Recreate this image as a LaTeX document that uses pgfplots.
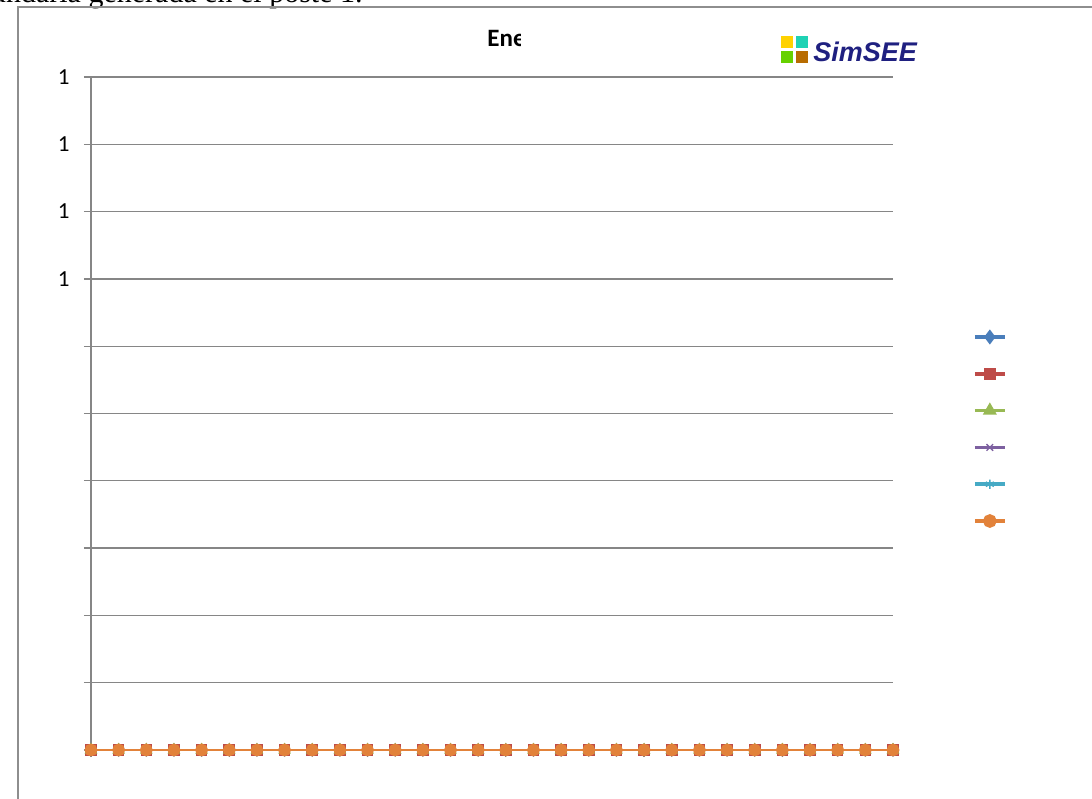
\documentclass[border=0pt]{standalone}
\usepackage{pgfplots}
\pgfplotsset{compat=1.18}
\usepackage{pgfplotstable}
\usepackage{fontspec}
\setmainfont{Liberation Serif}
\newfontfamily\calibri{Carlito}
\newfontfamily\arialf{Liberation Sans}
\definecolor{gridgray}{HTML}{868686}
\definecolor{framegray}{HTML}{8E8E8E}
\definecolor{cA}{HTML}{4A7EBB}
\definecolor{cB}{HTML}{BE4B48}
\definecolor{cC}{HTML}{98B954}
\definecolor{cD}{HTML}{7D60A0}
\definecolor{cE}{HTML}{46AAC5}
\definecolor{cF}{HTML}{E2823A}
\definecolor{sqy}{HTML}{FFD200}
\definecolor{sqt}{HTML}{1FD2B4}
\definecolor{sqg}{HTML}{66D100}
\definecolor{sqb}{HTML}{B86C00}
\definecolor{navy}{HTML}{1F2080}

\pgfplotstableread{
x s1 s2 s3 s4 s5 s6
0 0 0 0 0 0 0
1 0 0 0 0 0 0
2 0 0 0 0 0 0
3 0 0 0 0 0 0
4 0 0 0 0 0 0
5 0 0 0 0 0 0
6 0 0 0 0 0 0
7 0 0 0 0 0 0
8 0 0 0 0 0 0
9 0 0 0 0 0 0
10 0 0 0 0 0 0
11 0 0 0 0 0 0
12 0 0 0 0 0 0
13 0 0 0 0 0 0
14 0 0 0 0 0 0
15 0 0 0 0 0 0
16 0 0 0 0 0 0
17 0 0 0 0 0 0
18 0 0 0 0 0 0
19 0 0 0 0 0 0
20 0 0 0 0 0 0
21 0 0 0 0 0 0
22 0 0 0 0 0 0
23 0 0 0 0 0 0
24 0 0 0 0 0 0
25 0 0 0 0 0 0
26 0 0 0 0 0 0
27 0 0 0 0 0 0
28 0 0 0 0 0 0
29 0 0 0 0 0 0
}\datatab

\begin{document}
\begin{tikzpicture}[x=0.5pt,y=0.5pt]
\useasboundingbox (0,0) rectangle (1092,798);
\clip (0,0) rectangle (1092,798);
\fill[white] (0,0) rectangle (1092,798);
% text line of the page above the chart
\node[anchor=base east, inner sep=0pt] at (363,795.5) {\fontsize{15}{18}\selectfont Energía secundaria generada en el poste 1.};
% chart frame
\draw[framegray, line width=0.75pt] (18,-10) -- (18,791) -- (1100,791);
% cut title
\begin{scope}
\clip (470,700) rectangle (520,790);
\node[anchor=base west, inner sep=0pt] at (487,751) {\calibri\bfseries\fontsize{12.5}{15}\selectfont Energía};
\end{scope}
% SimSEE logo
\fill[sqy] (781,762) rectangle (793,749.5);
\fill[sqt] (796,762) rectangle (808,749.5);
\fill[sqg] (781,747) rectangle (793,735);
\fill[sqb] (796,747) rectangle (808,735);
\node[anchor=base west, inner sep=0pt, text=navy] at (813,736) {\arialf\bfseries\itshape\fontsize{13.5}{16}\selectfont SimSEE};
\begin{axis}[
  at={(45.5pt,24pt)}, anchor=south west,
  scale only axis, width=401pt, height=336.5pt,
  xmin=0, xmax=29, ymin=0, ymax=1,
  clip=false,
  axis x line=bottom, axis y line=left,
  axis line style={-, gridgray, line width=0.65pt},
  tick align=outside,
  major tick length=3.5pt,
  tick style={gridgray, line width=0.65pt},
  xtick={0,5,10,15,20,25}, xticklabels={},
  ytick={0,0.1,0.2,0.3,0.4,0.5,0.6,0.7,0.8,0.9,1},
  yticklabels={,,,,,,,1,1,1,1},
  yticklabel style={font=\calibri\fontsize{11.5}{13}\selectfont, inner sep=0pt, xshift=-7pt},
  ymajorgrids,
  grid style={gridgray, line width=0.65pt},
  legend image code/.code={\draw[mark repeat=2,mark phase=2,#1,line width=1.8pt] plot coordinates {(0pt,0pt) (7.5pt,0pt) (15pt,0pt)};},
  legend style={at={(1.0998,0.641)}, anchor=north west, draw=none, fill=none, inner sep=0pt, outer sep=0pt, row sep=0pt,
    nodes={inner sep=0pt, outer sep=0pt, text height=9.2pt, text depth=9.2pt, text width=0pt}},
  legend cell align=left,
  every axis plot/.append style={line width=1.4pt, mark options={solid}},
]
\addplot[cA, mark=diamond*, mark size=2.3pt] table[x=x, y=s1] {\datatab};
\addlegendentry{}
\addplot[cB, mark=square*, mark size=2.2pt] table[x=x, y=s2] {\datatab};
\addlegendentry{}
\addplot[cC, mark=triangle*, mark size=2.3pt] table[x=x, y=s3] {\datatab};
\addlegendentry{}
\addplot[cD, mark=x, mark size=2.3pt, mark options={line width=0.7pt}] table[x=x, y=s4] {\datatab};
\addlegendentry{}
\addplot[cE, mark=asterisk, mark size=2.3pt, mark options={line width=0.7pt}] table[x=x, y=s5] {\datatab};
\addlegendentry{}
\addplot[cF, mark=*, mark size=2.5pt] table[x=x, y=s6] {\datatab};
\addlegendentry{}
\end{axis}
\end{tikzpicture}
\end{document}
